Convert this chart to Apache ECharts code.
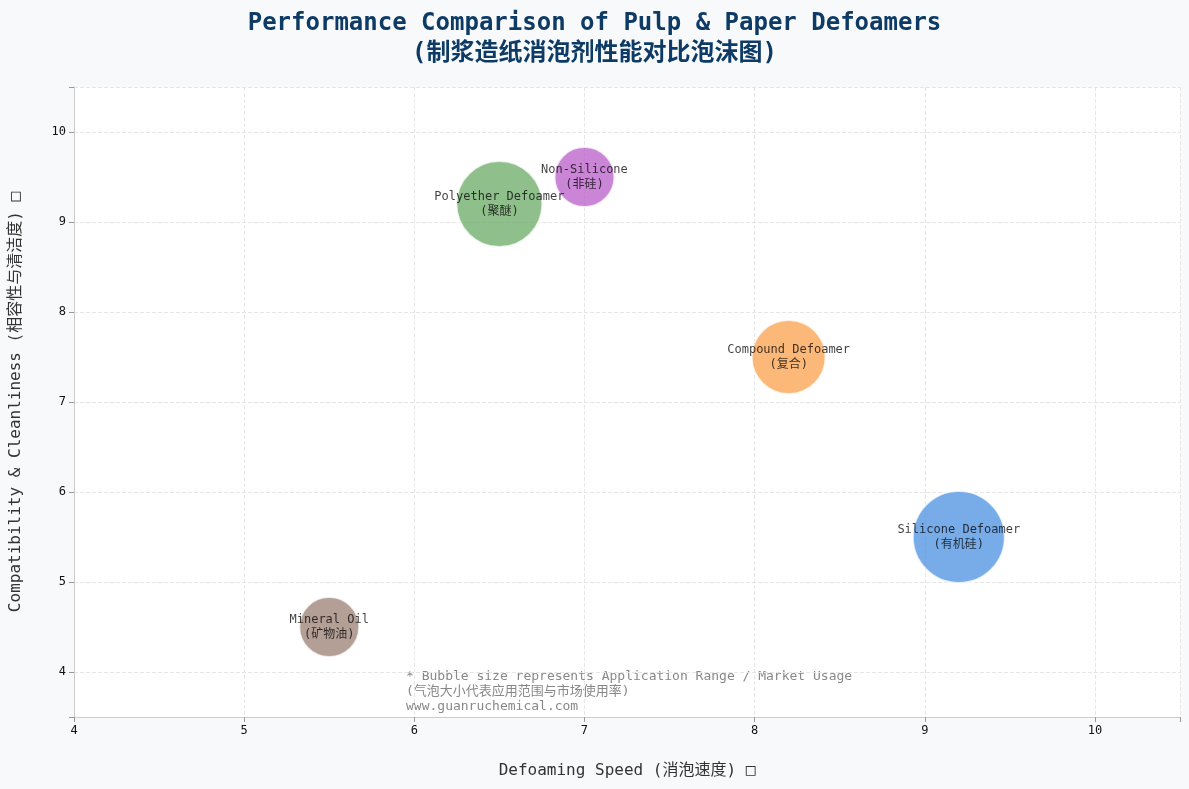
<!DOCTYPE html>
<html>
<head>
<meta charset="utf-8">
<script src="https://cdn.jsdelivr.net/npm/echarts@6/dist/echarts.min.js"></script>
<style>html,body{margin:0;padding:0;background:#f8f9fa;}#main{width:1189px;height:789px;}</style>
</head>
<body>
<div id="main"></div>
<script>
// data
const names = ['Silicone Defoamer\n(有机硅)', 'Polyether Defoamer\n(聚醚)', 'Compound Defoamer\n(复合)', 'Non-Silicone\n(非硅)', 'Mineral Oil\n(矿物油)'];
const speed = [9.2, 6.5, 8.2, 7.0, 5.5];
const compat = [5.5, 9.2, 7.5, 9.5, 4.5];
const usage = [92, 86, 74, 60, 60];
const colors = ['#4a90e2', '#6aaa64', '#f9a04b', '#b85cc8', '#9a7f73'];

const font = "'DejaVu Sans Mono', 'Noto Sans CJK SC', monospace";

let data = [];
for (let i = 0; i < names.length; i++) {
    data.push({
        value: [speed[i], compat[i], usage[i]],
        name: names[i],
        itemStyle: { color: colors[i] }
    });
}

function intOnly(v) { return v % 1 === 0 ? v : ''; }

echarts.init(document.getElementById('main')).setOption({
    backgroundColor: '#f8f9fa',
    textStyle: { fontFamily: font },
    title: {
        text: 'Performance Comparison of Pulp & Paper Defoamers\n(制浆造纸消泡剂性能对比泡沫图)',
        left: 'center',
        top: 4,
        textStyle: { fontFamily: font, fontSize: 24, fontWeight: 'bold', color: '#0d3b66', lineHeight: 30 }
    },
    grid: { left: 72, right: 9, top: 87, bottom: 72, show: true, backgroundColor: '#fff', borderWidth: 0 },
    xAxis: {
        type: 'value', min: 4, max: 10.5, interval: 1,
        name: 'Defoaming Speed (消泡速度) □',
        nameLocation: 'middle', nameGap: 46,
        nameTextStyle: { fontSize: 16, color: '#333' },
        axisLine: { lineStyle: { color: '#ccc' } },
        axisTick: { show: true, lineStyle: { color: '#999' } },
        axisLabel: { color: '#111', fontSize: 12, formatter: intOnly },
        splitLine: { lineStyle: { type: 'dashed', color: '#e6e6e6' } }
    },
    yAxis: {
        type: 'value', min: 3.5, max: 10.5, splitNumber: 7,
        name: 'Compatibility & Cleanliness (相容性与清洁度) □',
        nameLocation: 'middle', nameGap: 50,
        nameTextStyle: { fontSize: 16, color: '#333' },
        axisLine: { show: true, lineStyle: { color: '#ccc' } },
        axisTick: { show: true, lineStyle: { color: '#999' } },
        axisLabel: { color: '#111', fontSize: 12, formatter: intOnly },
        splitLine: { lineStyle: { type: 'dashed', color: '#e6e6e6' } }
    },
    series: [{
        type: 'scatter',
        data: data,
        symbolSize: function (v) { return v[2]; },
        itemStyle: { opacity: 0.75, borderColor: '#fff', borderWidth: 2 },
        label: {
            show: true, position: 'inside', color: '#000', fontSize: 12, lineHeight: 15,
            formatter: function (p) { return p.name; }
        }
    }],
    graphic: [{
        type: 'text', left: 406, top: 669,
        style: {
            text: '* Bubble size represents Application Range / Market Usage\n(气泡大小代表应用范围与市场使用率)\nwww.guanruchemical.com',
            align: 'center', fill: '#888', font: "13px " + font, lineHeight: 15
        }
    }]
});
</script>
</body>
</html>
